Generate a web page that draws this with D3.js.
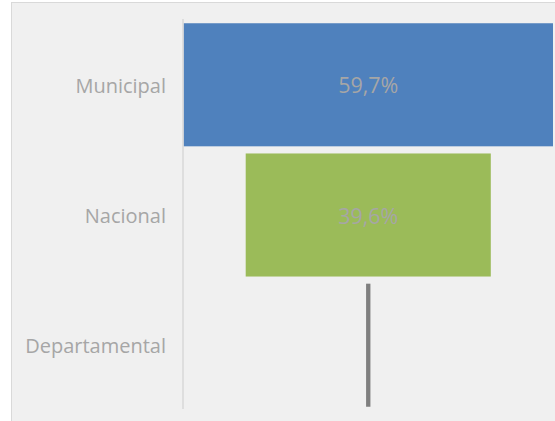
<!DOCTYPE html>
<html>
<head>
<meta charset="utf-8">
<script src="https://cdn.jsdelivr.net/npm/d3@7"></script>
<style>
  body { margin: 0; background: #fff; }
  svg { display: block; }
</style>
</head>
<body>
<div id="chart"></div>
<script>
const categories = ["Municipal", "Nacional", "Departamental"];
const values = [59.7, 39.6, 0.7];
const valueLabels = ["59,7%", "39,6%", ""];
const colors = ["#4f81bd", "#9bbb59", "#7f7f7f"];

const W = 555, H = 421;
const svg = d3.select("#chart").append("svg")
  .attr("width", W)
  .attr("height", H);

// panel
svg.append("rect")
  .attr("x", 11.5).attr("y", 2.5)
  .attr("width", W).attr("height", H)
  .attr("fill", "#f0f0f0")
  .attr("stroke", "#d9d9d9");

const y = d3.scaleBand()
  .domain(categories)
  .range([20, 410])
  .paddingInner(0.055)
  .paddingOuter(0.025);

// funnel: bars centred on the middle of the plot
const maxV = d3.max(values);
const x = d3.scaleLinear().domain([-maxV / 2, maxV / 2]).range([183.5, 553]);

const data = categories.map((c, i) => ({ cat: c, value: values[i], label: valueLabels[i], color: colors[i] }));

svg.selectAll("rect.bar")
  .data(data)
  .join("rect")
  .attr("class", "bar")
  .attr("x", d => x(-d.value / 2))
  .attr("y", d => y(d.cat))
  .attr("width", d => Math.max(3, x(d.value / 2) - x(-d.value / 2)))
  .attr("height", y.bandwidth())
  .attr("fill", d => d.color);

// axis line
svg.append("line")
  .attr("x1", 183).attr("x2", 183)
  .attr("y1", 19).attr("y2", 409)
  .attr("stroke", "#d9d9d9")
  .attr("stroke-width", 1.5);

// category labels
svg.selectAll("text.cat")
  .data(data)
  .join("text")
  .attr("class", "cat")
  .attr("x", 166)
  .attr("y", d => y(d.cat) + y.bandwidth() / 2 + 8)
  .attr("text-anchor", "end")
  .attr("fill", "#a6a6a6")
  .style("font-family", "'Open Sans', sans-serif")
  .style("font-size", "20px")
  .text(d => d.cat);

// value labels
svg.selectAll("text.val")
  .data(data)
  .join("text")
  .attr("class", "val")
  .attr("x", x(0))
  .attr("y", d => y(d.cat) + y.bandwidth() / 2 + 8.5)
  .attr("text-anchor", "middle")
  .attr("fill", "#a6a6a6")
  .style("font-family", "'Open Sans', sans-serif")
  .style("font-size", "21.5px")
  .text(d => d.label);
</script>
</body>
</html>
